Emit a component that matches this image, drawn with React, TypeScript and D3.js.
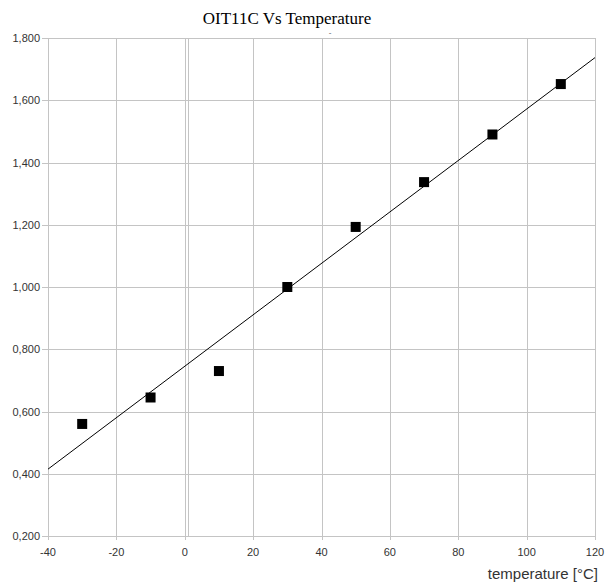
import React from 'react'
import * as d3 from 'd3'

const temperatures = [-30, -10, 10, 30, 50, 70, 90, 110]
const oitValues = [0.56, 0.645, 0.73, 1.0, 1.193, 1.337, 1.49, 1.652]
const xTicks = [-40, -20, 0, 20, 40, 60, 80, 100, 120]
const yTicks = [0.2, 0.4, 0.6, 0.8, 1.0, 1.2, 1.4, 1.6, 1.8]

const W = 607
const H = 588
const left = 48
const right = 595
const top = 38
const bottom = 536

const App = () => {
  const x = d3.scaleLinear().domain([-40, 120]).range([left, right])
  const y = d3.scaleLinear().domain([0.2, 1.8]).range([bottom, top])

  // least squares trend line
  const mx = d3.mean(temperatures) as number
  const my = d3.mean(oitValues) as number
  const sxy = d3.sum(temperatures, (t, i) => (t - mx) * (oitValues[i] - my))
  const sxx = d3.sum(temperatures, t => (t - mx) * (t - mx))
  const slope = sxy / sxx
  const trend = (t: number) => my + slope * (t - mx)

  const line = d3.line<number>()
    .x(t => x(t))
    .y(t => y(trend(t)))

  const fmt = (v: number) => d3.format('.3f')(v).replace('.', ',')

  return (
    <svg width={W} height={H} style={{ position: 'absolute', left: 0, top: 0 }}>
      <rect width={W} height={H} fill='#fff' />
      <text x={287} y={24} textAnchor='middle' fontFamily='Liberation Serif' fontSize={17} fill='#000'>
        OIT11C Vs Temperature
      </text>
      <text x={330} y={35} textAnchor='middle' fontFamily='Liberation Sans' fontSize={8} fill='#555'>-</text>

      <g stroke='#c4c4c4' strokeWidth={1}>
        {yTicks.map(v => (
          <line key={'gy' + v} x1={left - 6} x2={right} y1={Math.round(y(v)) + 0.5} y2={Math.round(y(v)) + 0.5} />
        ))}
        {xTicks.map(v => (
          <line key={'gx' + v} x1={Math.round(x(v)) + 0.5} x2={Math.round(x(v)) + 0.5} y1={top} y2={bottom + 4} />
        ))}
        <line x1={Math.round(x(0)) + 3.5} x2={Math.round(x(0)) + 3.5} y1={top} y2={bottom} />
      </g>

      <g fontFamily='Liberation Sans' fontSize={11} fill='#333'>
        {yTicks.map(v => (
          <text key={'ty' + v} x={left - 8} y={y(v) + 4} textAnchor='end'>{fmt(v)}</text>
        ))}
        {xTicks.map(v => (
          <text key={'tx' + v} x={x(v)} y={bottom + 20} textAnchor='middle'>{v}</text>
        ))}
      </g>

      <text x={598} y={579} textAnchor='end' fontFamily='Liberation Sans' fontSize={15} fill='#333'>
        temperature [°C]
      </text>

      <defs>
        <clipPath id='plot'>
          <rect x={left} y={top} width={right - left} height={bottom - top} />
        </clipPath>
      </defs>
      <path d={line([-40, 120]) || ''} stroke='#000' strokeWidth={1} fill='none' clipPath='url(#plot)' />

      {temperatures.map((t, i) => (
        <rect key={'p' + t} x={x(t) - 5} y={y(oitValues[i]) - 5} width={10} height={10} fill='#000' />
      ))}
    </svg>
  )
}

export default App
